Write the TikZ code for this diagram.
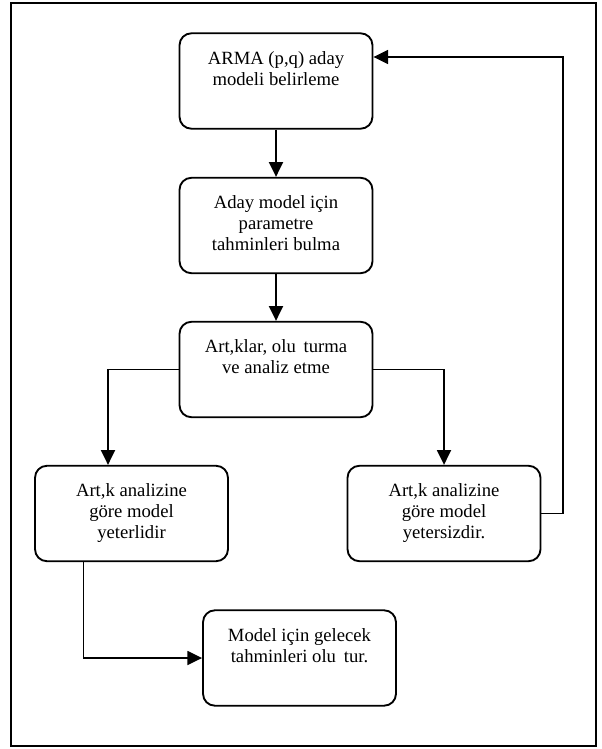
\documentclass[tikz,border=0pt]{standalone}
\usepackage{fontspec}
\setmainfont{Liberation Serif}
\usetikzlibrary{arrows.meta}
\begin{document}
\begin{tikzpicture}[x=0.75pt,y=-0.75pt,
  box/.style={draw,line width=1.4pt,rounded corners=9pt,minimum width=144.75pt,minimum height=71.6pt,inner sep=0pt},
  txt/.style={anchor=north,align=center,inner sep=0pt,font=\fontsize{14}{15.6}\selectfont},
  conn/.style={line width=1.4pt,-{Triangle[length=11pt,width=10.5pt]}},
  thin/.style={line width=1pt,-{Triangle[length=11pt,width=10.5pt]}}]
\useasboundingbox (0,0) rectangle (601,749);
\draw[line width=0.8pt] (11,3) rectangle (596,746);
% boxes
\node[box] (b1) at (276,81) {};
\node[box] (b2) at (276,225.5) {};
\node[box] (b3) at (276,369.5) {};
\node[box] (b4) at (131.5,513.5) {};
\node[box] (b5) at (444,513.5) {};
\node[box] (b6) at (299.5,658) {};
% texts
\node[txt] (t1) at ([yshift=-14pt]b1.north) {ARMA (p,q) aday\\modeli belirleme};
\node[txt] (t2) at ([yshift=-14pt]b2.north) {Aday model için\\parametre\\tahminleri bulma};
\node[txt] (t3) at ([yshift=-14pt]b3.north) {Art,klar, olu\, turma\\ve analiz etme};
\node[txt] (t4) at ([yshift=-14pt]b4.north) {Art,k analizine\\göre model\\yeterlidir};
\node[txt] (t5) at ([yshift=-14pt]b5.north) {Art,k analizine\\göre model\\yetersizdir.};
\node[txt] (t6) at ([yshift=-14pt]b6.north) {Model için gelecek\\tahminleri olu\, tur.};
% helper coordinates
\coordinate (c4) at (108,0);
\coordinate (fbc) at (563,57);
\coordinate (c6) at (83.5,0);
% connectors
\draw[conn] (b1.south) -- (b2.north);
\draw[conn] (b2.south) -- (b3.north);
\draw[conn] (b3.west) -| (b4.north -| c4);
\draw[conn] (b3.east) -| (b5.north);
\draw[thin] (b5.east) -| (fbc) -- (fbc -| b1.east);
\draw[thin] (b4.south -| c6) |- (b6.west);
\end{tikzpicture}
\end{document}
